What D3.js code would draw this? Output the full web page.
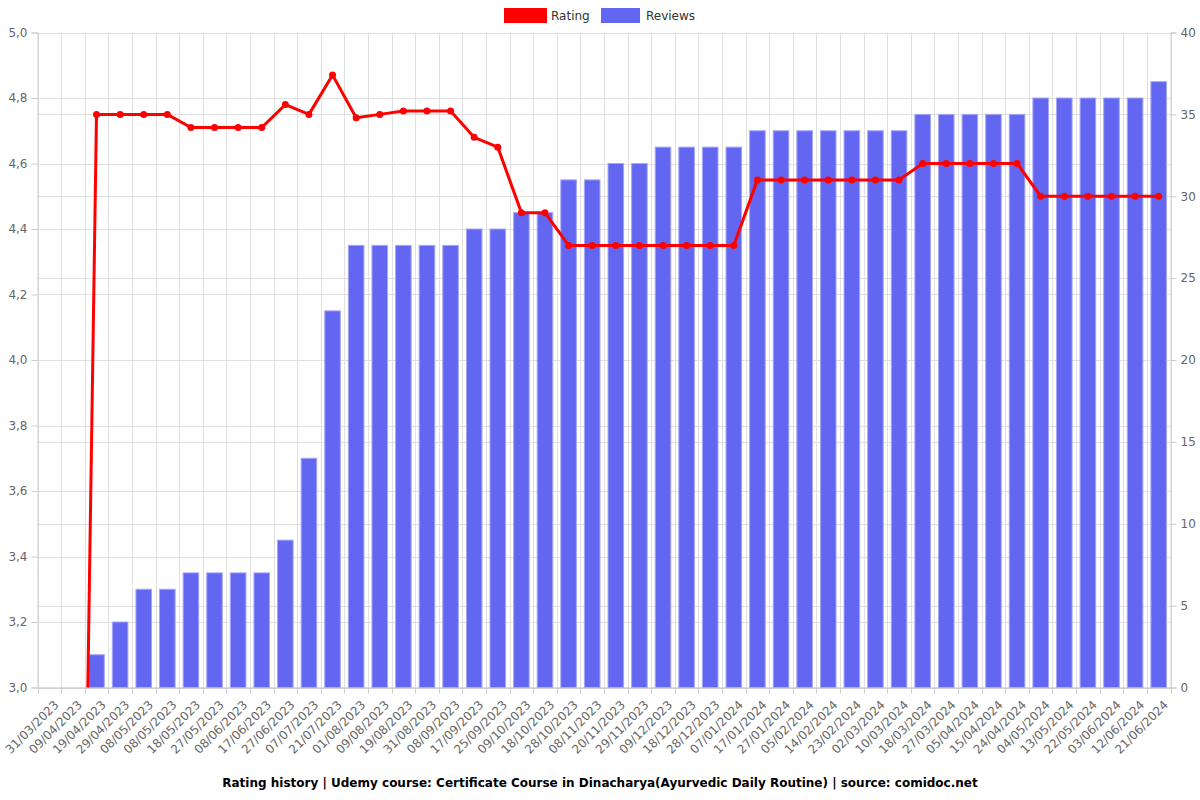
<!DOCTYPE html>
<html><head><meta charset="utf-8">
<script src="https://cdn.jsdelivr.net/npm/d3@7"></script>
<style>body{margin:0;background:#fff;font-family:"DejaVu Sans",sans-serif;}</style>
</head><body><svg id="c" width="1200" height="800"></svg>
<script>
const categories = ["31/03/2023","09/04/2023","19/04/2023","29/04/2023","08/05/2023","08/05/2023","18/05/2023","27/05/2023","08/06/2023","17/06/2023","27/06/2023","07/07/2023","21/07/2023","01/08/2023","09/08/2023","19/08/2023","31/08/2023","08/09/2023","17/09/2023","25/09/2023","09/10/2023","18/10/2023","28/10/2023","08/11/2023","20/11/2023","29/11/2023","09/12/2023","18/12/2023","28/12/2023","07/01/2024","17/01/2024","27/01/2024","05/02/2024","14/02/2024","23/02/2024","02/03/2024","10/03/2024","18/03/2024","27/03/2024","05/04/2024","15/04/2024","24/04/2024","04/05/2024","13/05/2024","22/05/2024","03/06/2024","12/06/2024","21/06/2024"];
const rating = [0,0,4.75,4.75,4.75,4.75,4.71,4.71,4.71,4.71,4.78,4.75,4.87,4.74,4.75,4.76,4.76,4.76,4.68,4.65,4.45,4.45,4.35,4.35,4.35,4.35,4.35,4.35,4.35,4.35,4.55,4.55,4.55,4.55,4.55,4.55,4.55,4.6,4.6,4.6,4.6,4.6,4.5,4.5,4.5,4.5,4.5,4.5];
const reviews = [0,0,2,4,6,6,7,7,7,7,9,14,23,27,27,27,27,27,28,28,29,29,31,31,32,32,33,33,33,33,34,34,34,34,34,34,34,35,35,35,35,35,36,36,36,36,36,37];
const leftTicks = [3.0,3.2,3.4,3.6,3.8,4.0,4.2,4.4,4.6,4.8,5.0];
const rightTicks = [0,5,10,15,20,25,30,35,40];
const title = "Rating history | Udemy course: Certificate Course in Dinacharya(Ayurvedic Daily Routine) | source: comidoc.net";

const svg = d3.select("#c");
const L = 37.5, R = 1170.5, T = 32.5, B = 687.5;
const x = d3.scaleBand().domain(d3.range(categories.length)).range([L, R]).paddingInner(0).paddingOuter(0);
const yL = d3.scaleLinear().domain([3, 5]).range([B, T]);
const yR = d3.scaleLinear().domain([0, 40]).range([B, T]);
const fmt = d => d.toFixed(1).replace(".", ",");

const grid = svg.append("g");
d3.range(categories.length + 1).forEach(i => {
  const xx = Math.round(L + i * x.bandwidth()) + 0.5;
  grid.append("line").attr("x1", xx).attr("x2", xx).attr("y1", T).attr("y2", B).attr("stroke", "#e0e0e0");
});
leftTicks.forEach(t => grid.append("line").attr("x1", L).attr("x2", R).attr("y1", Math.round(yL(t))+0.5).attr("y2", Math.round(yL(t))+0.5).attr("stroke", "#e0e0e0"));
rightTicks.forEach(t => grid.append("line").attr("x1", L).attr("x2", R).attr("y1", Math.round(yR(t))+0.5).attr("y2", Math.round(yR(t))+0.5).attr("stroke", "#e0e0e0"));

const bw = x.bandwidth() * 0.66;
svg.append("g").selectAll("rect").data(reviews).join("rect")
  .attr("x", (d, i) => x(i) + (x.bandwidth() - bw) / 2)
  .attr("width", bw)
  .attr("y", d => yR(d))
  .attr("height", d => B - yR(d))
  .attr("fill", "#6366f1")
  .attr("stroke", "#a5a7f7").attr("stroke-width", 1);

const axL = svg.append("g").attr("transform", `translate(${L},0)`)
  .call(d3.axisLeft(yL).tickValues(leftTicks).tickFormat(fmt).tickSize(6).tickPadding(4));
const axR = svg.append("g").attr("transform", `translate(${R},0)`)
  .call(d3.axisRight(yR).tickValues(rightTicks).tickSize(6).tickPadding(4));
[axL, axR].forEach(a => {
  a.select(".domain").attr("stroke", "#cccccc");
  a.selectAll(".tick line").attr("stroke", "#cccccc");
  a.selectAll(".tick text").attr("fill", "#666").attr("font-size", 12).attr("font-family", "DejaVu Sans");
});
const axB = svg.append("g").attr("transform", `translate(0,${B})`)
  .call(d3.axisBottom(x).tickFormat(i => categories[i]).tickSize(0));
axB.select(".domain").attr("stroke", "#bbbbbb");
axB.selectAll(".tick text").attr("fill", "#666").attr("font-size", 12).attr("font-family", "DejaVu Sans")
  .attr("text-anchor", "end").attr("dy", "0.35em")
  .attr("transform", "translate(5,13) rotate(-45)");
d3.range(categories.length + 1).forEach(i => {
  const xx = Math.round(L + i * x.bandwidth()) + 0.5;
  svg.append("line").attr("x1", xx).attr("x2", xx).attr("y1", B).attr("y2", B + 6).attr("stroke", "#cccccc");
});

svg.append("clipPath").attr("id", "clip").append("rect").attr("x", L).attr("y", T - 10).attr("width", R - L).attr("height", B - T + 10);
const cx = i => x(i) + x.bandwidth() / 2;
const lg = svg.append("g").attr("clip-path", "url(#clip)");
lg.append("path").datum(rating)
  .attr("d", d3.line().x((d, i) => cx(i)).y(d => yL(d)))
  .attr("fill", "none").attr("stroke", "#ff0000").attr("stroke-width", 3).attr("stroke-linejoin", "round");
lg.selectAll("circle").data(rating).join("circle")
  .attr("cx", (d, i) => cx(i)).attr("cy", d => yL(d)).attr("r", 3.5).attr("fill", "#ff0000");

const leg = svg.append("g");
leg.append("rect").attr("x", 504).attr("y", 8).attr("width", 43).attr("height", 15).attr("fill", "#ff0000");
leg.append("text").attr("x", 551).attr("y", 20).text("Rating").attr("font-size", 12).attr("fill", "#333");
leg.append("rect").attr("x", 601).attr("y", 8).attr("width", 39).attr("height", 15).attr("fill", "#6366f1");
leg.append("text").attr("x", 646).attr("y", 20).text("Reviews").attr("font-size", 12).attr("fill", "#333");

svg.append("text").attr("x", 600).attr("y", 787).attr("text-anchor", "middle")
  .attr("font-size", 12).attr("font-weight", "bold").attr("fill", "#000").text(title);
</script></body></html>
